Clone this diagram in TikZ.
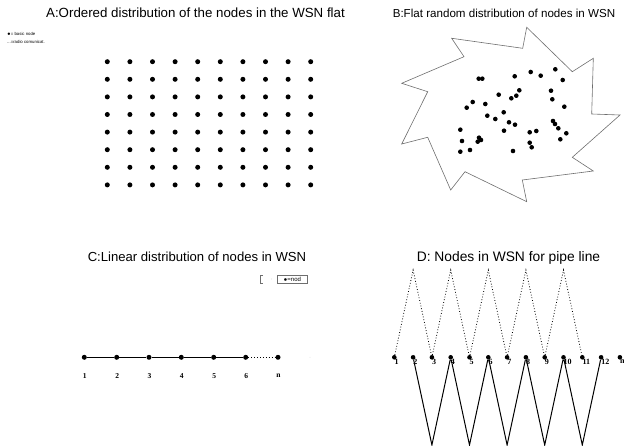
\documentclass[tikz,border=0pt]{standalone}
\usepackage{fontspec}
\setmainfont{Liberation Serif}
\setsansfont{Liberation Sans}
\usetikzlibrary{math}
\definecolor{edgegray}{RGB}{110,110,110}

\tikzset{
sensor/.style={circle, fill=black, inner sep=0pt, minimum size=5pt},
smallsensor/.style={circle, fill=black, inner sep=0pt, minimum size=4.6pt},
paneltitle/.style={font=\sffamily\fontsize{13}{15}\selectfont},
nodenum/.style={font=\bfseries\fontsize{7.5}{8}\selectfont, inner sep=0pt},
tinytext/.style={font=\sffamily\fontsize{4.3}{5}\selectfont, inner sep=0pt, anchor=west},
}

\begin{document}
\begin{tikzpicture}[x=1pt,y=-1pt]
\tikzmath{
\ax=107.3; \ay=61.7; \adx=22.6; \ady=17.6;
\cy=357.3;
\dx=394.3; \ddx=18.8; \dy=357.3; \dtop=270; \dbot=445;
}
\useasboundingbox (0,0) rectangle (624,446);

% A
\node[paneltitle, font=\sffamily\fontsize{13.3}{15}\selectfont] (titleA) at (195.5,13) {A:Ordered distribution of the nodes in the WSN flat};
\node[tinytext] (keyA1) at (7,34.3) {$\bullet$= basic node};
\node[tinytext] (keyA2) at (7,42.3) {...=radio comunicat.};
\foreach \i in {0,...,9}
  \foreach \j in {0,...,7}
    \node[sensor] (a\i\j) at ({\ax+\adx*\i},{\ay+\ady*\j}) {};

% B
\node[paneltitle, font=\sffamily\fontsize{11.6}{14}\selectfont] (titleB) at (504,13) {B:Flat random distribution of nodes in WSN};
\draw[edgegray, line width=0.6] (451.7,38.3) -- (522.7,48.3) -- (526.7,27.3) -- (572.3,71.7)
  -- (593.3,58.3) -- (591.7,114) -- (620,115) -- (572.3,157.3) -- (593.3,171)
  -- (522.3,180) -- (526.7,201.7) -- (465,171.7) -- (450.7,190) -- (427.7,137.3)
  -- (401.7,144) -- (427.7,91.7) -- (401.7,83.3) -- (464,56.7) -- cycle;
\foreach \p [count=\n] in {
  {478.7,78.7},{482.3,78.7},{514.7,76.3},{530.7,72},{540.7,75.7},{555.3,69.3},
  {562.7,80},{519.3,90.3},{516.3,95.7},{511.3,98.3},{498.7,94.7},{551,90.7},
  {552.3,99.3},{472.7,102},{466.7,107.7},{485.3,104},{564.3,106.7},{503.7,112.3},
  {487.3,115.7},{495.3,119},{509,122.3},{515,124.7},{553,121},{555,124},
  {558.3,128.3},{460.3,129.7},{504,130.7},{529.7,132.3},{536.3,131},{566.3,133.3},
  {479,137.7},{481,140},{477.7,141.7},{462,141},{560.3,139.3},{529.7,142.7},
  {531.7,147.3},{470,150},{460.3,151.7},{513,151}}
  \node[smallsensor] (b\n) at (\p) {};

% C
\node[paneltitle, font=\sffamily\fontsize{13.1}{15}\selectfont] (titleC) at (197,257.3) {C:Linear distribution of nodes in WSN};
\draw[edgegray, line width=0.5] (263,275) -- (260,275) -- (260,283.3) -- (263,283.3);
\fill[gray!60] (271.7,279) circle(0.4);
\draw[edgegray, line width=0.5] (277.3,275) rectangle (307.3,283.3);
\node[font=\sffamily\fontsize{6}{7}\selectfont, inner sep=0pt] (keyC) at (292.3,279.2) {$\bullet$=nod};
\foreach \x/\lbl [count=\n] in {84.3/1,116.7/2,149/3,181.3/4,213.7/5,245.7/6,278/n}{
  \node[sensor] (c\n) at (\x,\cy) {};
  \node[nodenum] (cl\n) at (\x+0.5,376) {\lbl};
}
\draw[line width=1.2] (c1) -- (c2) -- (c3) -- (c4) -- (c5) -- (c6);
\draw[dotted, line width=0.9] (c6) -- (c7);
\fill[gray!40] (310,357.3) circle(0.4);

% D
\node[paneltitle, font=\sffamily\fontsize{13.8}{15}\selectfont] (titleD) at (508.5,258.3) {D: Nodes in WSN for pipe line};
\foreach \lbl [count=\n] in {1,...,12,n}{
  \node[smallsensor] (d\n) at ({\dx+\ddx*(\n-1)},\dy) {};
  \node[nodenum, font=\bfseries\fontsize{8}{8}\selectfont, anchor=west] (dl\n) at ({\dx+\ddx*(\n-1)},\dy+4.5) {\lbl};
}
\foreach \k in {1,...,5}{
  \coordinate (p\k) at ({\dx+\ddx*(2*\k-1)},\dtop);
  \coordinate (v\k) at ({\dx+\ddx*(2*\k)},\dbot);
}
\draw[dotted, line width=0.8] (d1) -- (p1) -- (d3) -- (p2) -- (d5) -- (p3) -- (d7)
  -- (p4) -- (d9) -- (p5) -- (d11);
\draw[line width=1] (d2) -- (v1) -- (d4) -- (v2) -- (d6) -- (v3) -- (d8)
  -- (v4) -- (d10) -- (v5) -- (d12);

\end{tikzpicture}
\end{document}
